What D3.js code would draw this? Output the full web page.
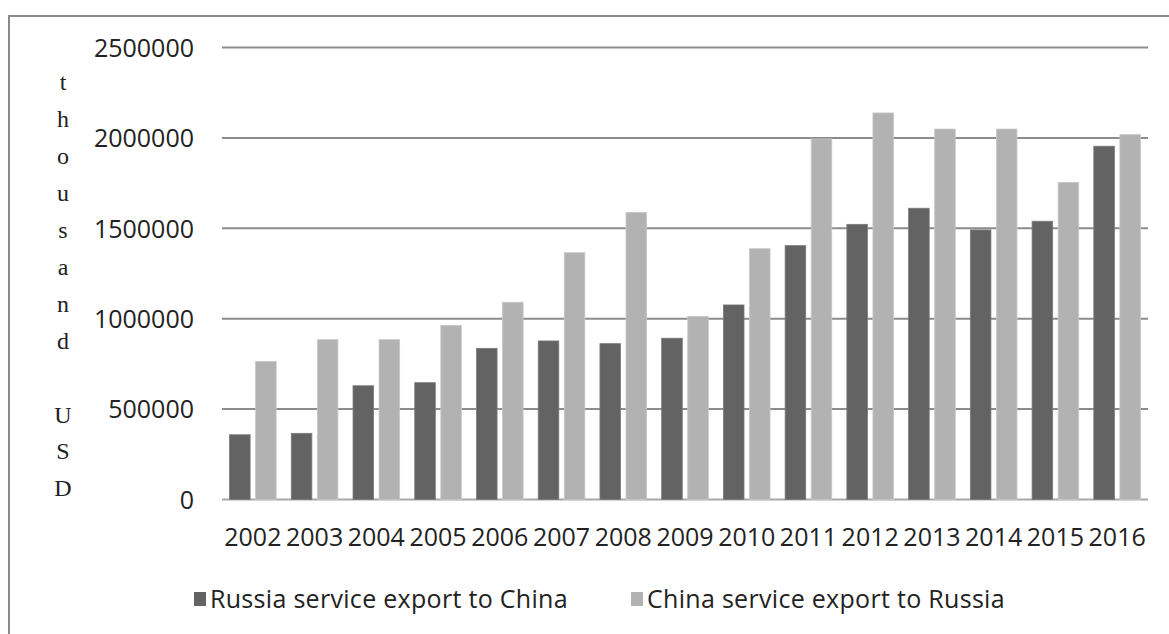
<!DOCTYPE html>
<meta charset="utf-8">
<html>
<style>
body { margin: 0; background: #fff; }
svg { display: block; }
.tick text, .lbl { font-family: "Open Sans", sans-serif; font-size: 25px; fill: #222; }
.lbl { letter-spacing: 0.3px; }
.ytitle { font-family: "Liberation Serif", serif; font-size: 24px; fill: #222; }
</style>
<body>
<script src="https://cdn.jsdelivr.net/npm/d3@7"></script>
<script type="text/javascript">

// data
var years = ["2002","2003","2004","2005","2006","2007","2008","2009","2010","2011","2012","2013","2014","2015","2016"];
var russiaToChina = [358000, 366000, 629000, 646000, 836000, 877000, 862000, 892000, 1076000, 1404000, 1522000, 1611000, 1491000, 1539000, 1954000];
var chinaToRussia = [764000, 884000, 884000, 963000, 1091000, 1365000, 1588000, 1013000, 1387000, 1994000, 2138000, 2049000, 2049000, 1754000, 2018000];
var seriesNames = ["Russia service export to China", "China service export to Russia"];
var yTicks = [0, 500000, 1000000, 1500000, 2000000, 2500000];
var yTitle = "thousand USD";

var width = 1169, height = 634;
var colors = ["#636363", "#b2b2b2"];

var svg = d3.select("body").append("svg")
    .attr("width", width)
    .attr("height", height);

// frame (only top and left edges are visible in the crop)
svg.append("path")
    .attr("d", "M9,634 L9,16 L1169,16")
    .attr("fill", "none")
    .attr("stroke", "#8a8a8a")
    .attr("stroke-width", 2);

var x0 = d3.scaleBand().domain(years).range([222, 1148]);
var x1 = d3.scaleBand().domain([0, 1]).range([0, x0.bandwidth()])
    .paddingInner(0.21).paddingOuter(0.29);
var y = d3.scaleLinear().domain([0, 2500000]).range([499.5, 47.5]);

//gridlines
svg.append("g").selectAll("line")
    .data(yTicks)
    .enter().append("line")
    .attr("x1", 222).attr("x2", 1148)
    .attr("y1", d => y(d)).attr("y2", d => y(d))
    .attr("stroke", d => d === 0 ? "#a8a8a8" : "#8c8c8c")
    .attr("stroke-width", 2);

//y axis labels
var yAxis = svg.append("g")
    .attr("transform", "translate(194,0)")
    .call(d3.axisLeft(y).tickValues(yTicks).tickSize(0).tickPadding(0).tickFormat(d3.format("d")));
yAxis.select(".domain").remove();
yAxis.selectAll("text").attr("fill", "#222").attr("dy", "0.35em");

//x axis labels
var xAxis = svg.append("g")
    .attr("transform", "translate(0,537)")
    .call(d3.axisBottom(x0).tickSize(0).tickPadding(0));
xAxis.select(".domain").remove();
xAxis.selectAll("text").attr("fill", "#222").attr("dy", "0.35em");

//bars
var series = [russiaToChina, chinaToRussia];
series.forEach(function(vals, s) {
  svg.append("g").selectAll("rect")
    .data(vals)
    .enter().append("rect")
    .attr("x", (d, i) => x0(years[i]) + x1(s))
    .attr("width", x1.bandwidth())
    .attr("y", d => y(d))
    .attr("height", d => y(0) - y(d))
    .attr("fill", colors[s])
    .attr("stroke", s === 0 ? "#7a7a7a" : "#c8c8c8")
    .attr("stroke-width", 0.8);
});

//vertical y title, one letter per line
var letters = yTitle.split("");
var ly = d3.scalePoint().domain(d3.range(letters.length)).range([82, 488]);
svg.append("g").selectAll("text")
    .data(letters)
    .enter().append("text")
    .attr("class", "ytitle")
    .attr("x", 63)
    .attr("y", (d, i) => ly(i))
    .attr("dy", "0.35em")
    .attr("text-anchor", "middle")
    .text(d => d);

//legend
var legendX = [194, 631];
var legend = svg.append("g").selectAll("g")
    .data(seriesNames)
    .enter().append("g")
    .attr("transform", (d, i) => "translate(" + legendX[i] + ",599)");
legend.append("rect")
    .attr("x", 0).attr("y", -7)
    .attr("width", 12).attr("height", 14)
    .attr("fill", (d, i) => colors[i]);
legend.append("text")
    .attr("class", "lbl")
    .attr("x", 16)
    .attr("dy", "0.35em")
    .text(d => d);

</script>
</body>
</html>
